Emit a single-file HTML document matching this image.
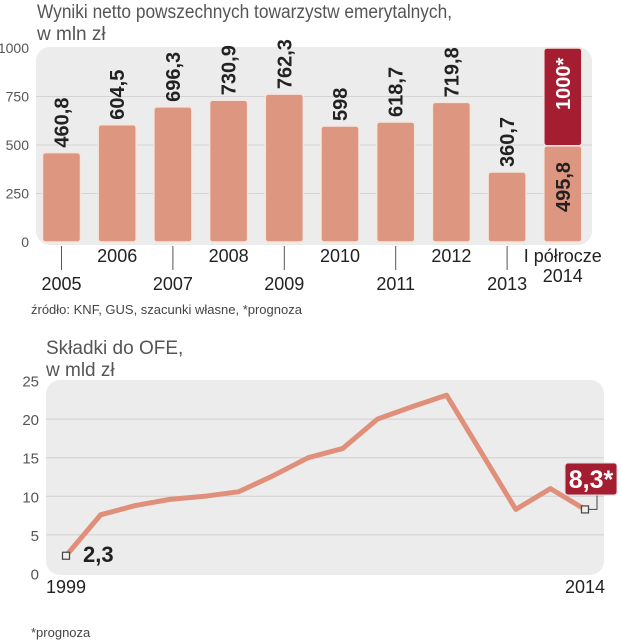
<!DOCTYPE html>
<html><head><meta charset="utf-8"><style>
body{margin:0;width:621px;height:640px;background:#fff;overflow:hidden;font-family:"Liberation Sans",sans-serif}
svg{display:block}
</style></head><body>
<svg width="621" height="640" viewBox="0 0 621 640">
<text x="37" y="18" font-size="19" fill="#555" textLength="415" lengthAdjust="spacingAndGlyphs">Wyniki netto powszechnych towarzystw emerytalnych,</text>
<text x="37" y="40" font-size="19" fill="#555">w mln zł</text>
<rect x="36" y="47" width="556" height="198" rx="14" fill="#ececec"/>
<g id="bars"></g>
<text x="31" y="314" font-size="13" fill="#444">źródło: KNF, GUS, szacunki własne, *prognoza</text>
<text x="46" y="354" font-size="19" fill="#555">Składki do OFE,</text>
<text x="46" y="376" font-size="19" fill="#555">w mld zł</text>
<rect x="46" y="380" width="558" height="195" rx="14" fill="#ececec"/>
<g id="line"></g>
<text x="31" y="637" font-size="13" fill="#444">*prognoza</text>
</svg>
<script>
const barYears=["2005","2006","2007","2008","2009","2010","2011","2012","2013"];
const barValues=[460.8,604.5,696.3,730.9,762.3,598,618.7,719.8,360.7];
const barLabels=["460,8","604,5","696,3","730,9","762,3","598","618,7","719,8","360,7"];
const half2014=495.8, forecast2014=1000;
const barTicks=[0,250,500,750,1000];
const lineYears=[1999,2000,2001,2002,2003,2004,2005,2006,2007,2008,2009,2010,2011,2012,2013,2014];
const lineValues=[2.3,7.6,8.8,9.6,10,10.6,12.7,15,16.2,20,21.6,23.1,15.7,8.3,11,8.3];
const lineTicks=[0,5,10,15,20,25];
const NS="http://www.w3.org/2000/svg";
function mk(t,a,p,txt){const e=document.createElementNS(NS,t);for(const k in a)e.setAttribute(k,a[k]);if(txt!==undefined)e.textContent=txt;p.appendChild(e);return e;}
const by=v=>242-v*0.194, bx=i=>61.5+i*55.7;
const g=document.getElementById('bars');
barTicks.forEach(t=>{
 if(t>0&&t<1000){const l=mk('line',{x1:36,x2:592,y1:by(t),y2:by(t),stroke:'#d4d4d4','stroke-width':1},g);
 
 }
 const tx=mk('text',{x:29,y:by(t)+5,'font-size':14,fill:'#555','text-anchor':'end'},g,String(t));
 
 
});
const all=barYears.concat(["2014"]);
all.forEach((yr,i)=>{
 const cx=bx(i), low=i%2===0;
 if(low){const l=mk('line',{x1:cx,x2:cx,y1:246,y2:270,stroke:'#555','stroke-width':1},g);
 
 }
 if(i<9){
  const r=mk('rect',{x:cx-19,y:by(barValues[i]),width:38,height:by(0)-by(barValues[i]),rx:3,fill:'#dd9680',stroke:'#f5e5df','stroke-width':1.5},g);
  
  
  const t=mk('text',{transform:`translate(${cx+7},${by(barValues[i])-5}) rotate(-90)`,'font-size':20,'font-weight':'bold',fill:'#222'},g,barLabels[i]);
  
  
  const yl=mk('text',{x:cx,y:low?290:262,'font-size':18,fill:'#222','text-anchor':'middle'},g,yr);
  
  
 } else {
  const r2=mk('rect',{x:cx-19,y:by(forecast2014),width:38,height:by(half2014)-by(forecast2014),rx:3,fill:'#a51d31',stroke:'#f5e5df','stroke-width':1.5},g);
  
  
  const r=mk('rect',{x:cx-19,y:by(half2014),width:38,height:by(0)-by(half2014),rx:3,fill:'#dd9680',stroke:'#f5e5df','stroke-width':1.5},g);
  
  
  const t=mk('text',{transform:`translate(${cx+7},${by(0)-30}) rotate(-90)`,'font-size':20,'font-weight':'bold',fill:'#222'},g,'495,8');
  
  
  const t2=mk('text',{transform:`translate(${cx+7},${by(forecast2014)+62}) rotate(-90)`,'font-size':20,'font-weight':'bold',fill:'#fff'},g,'1000*');
  
  
  const a=mk('text',{x:cx,y:262,'font-size':18,fill:'#222','text-anchor':'middle'},g,'I półrocze');
  
  
  const b=mk('text',{x:cx,y:282,'font-size':18,fill:'#222','text-anchor':'middle'},g,'2014');
  
  
 }
});
const ly=v=>573.5-v*7.72, lx=i=>66+i*34.6;
const L=document.getElementById('line');
lineTicks.forEach(t=>{
 if(t>0&&t<25){const l=mk('line',{x1:46,x2:604,y1:ly(t),y2:ly(t),stroke:'#d0d0d0','stroke-width':1},L);
 
 }
 const tx=mk('text',{x:39,y:ly(t)+6,'font-size':15,fill:'#555','text-anchor':'end'},L,String(t));
 
 
});
const pts=lineValues.map((v,i)=>lx(i)+','+ly(v)).join(' ');
const pl=mk('polyline',{points:pts,fill:'none',stroke:'#e0907a','stroke-width':5,'stroke-linejoin':'round'},L);


const n=lineValues.length-1;
[0,n].forEach(i=>{
 const m=mk('rect',{x:lx(i)-3.5,y:ly(lineValues[i])-3.5,width:7,height:7,fill:'#eee',stroke:'#444','stroke-width':1.2},L);
 
 
});
const c=mk('polyline',{points:`${lx(n)+4},${ly(lineValues[n])} ${lx(n)+12},${ly(lineValues[n])} ${lx(n)+12},${ly(lineValues[n])-14}`,fill:'none',stroke:'#444','stroke-width':1},L);


const lb=mk('rect',{x:565,y:463,width:52,height:32,rx:3,fill:'#a51d31',stroke:'#ddd','stroke-width':1},L);


const lt=mk('text',{x:591,y:488,'font-size':25,'font-weight':'bold',fill:'#fff','text-anchor':'middle'},L,'8,3*');


const st=mk('text',{x:83,y:562,'font-size':22,'font-weight':'bold',fill:'#222'},L,'2,3');


[[0,'1999'],[n,'2014']].forEach(([i,s])=>{
 const t=mk('text',{x:lx(i),y:593,'font-size':18,fill:'#222','text-anchor':'middle'},L,s);
 
 
});
</script>
</body></html>
